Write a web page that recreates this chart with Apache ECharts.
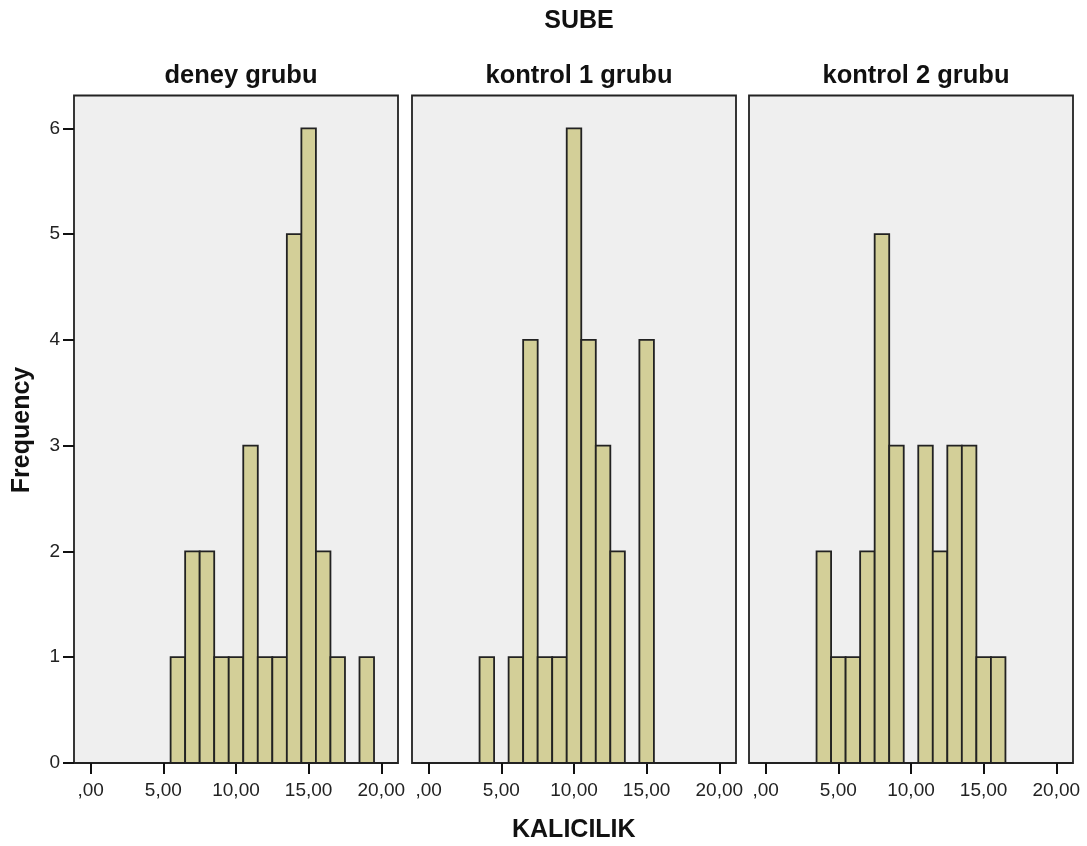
<!DOCTYPE html>
<html>
<head>
<meta charset="utf-8">
<script src="https://cdn.jsdelivr.net/npm/echarts@6/dist/echarts.min.js"></script>
<style>
  html, body { margin: 0; padding: 0; background: #fff; }
  #chart { width: 1087px; height: 846px; }
</style>
</head>
<body>
<div id="chart"></div>
<script>
// Histogram bins of KALICILIK (bin width 1, centred on whole numbers)
const binCenters = [4, 5, 6, 7, 8, 9, 10, 11, 12, 13, 14, 15, 16, 17, 18, 19];
const groups = ['deney grubu', 'kontrol 1 grubu', 'kontrol 2 grubu'];
const deneyCounts    = [0, 0, 1, 2, 2, 1, 1, 3, 1, 1, 5, 6, 2, 1, 0, 1];
const kontrol1Counts = [1, 0, 1, 4, 1, 1, 6, 4, 3, 2, 0, 4, 0, 0, 0, 0];
const kontrol2Counts = [2, 1, 1, 2, 5, 3, 0, 3, 2, 3, 3, 1, 1, 0, 0, 0];
const xTicks = [0, 5, 10, 15, 20];
const yTicks = [0, 1, 2, 3, 4, 5, 6];

const countsByGroup = [deneyCounts, kontrol1Counts, kontrol2Counts];
const FONT = '"Liberation Sans", Arial, sans-serif';
const BAR_FILL = '#D3CF98';
const PANEL_BG = '#EFEFEF';

const panelLefts = [74, 412, 749];
const panelWidth = 324;
const panelTop = 95.5;
const panelHeight = 667.5;

const fmtX = v => v === 0 ? ',00' : v.toFixed(2).replace('.', ',');

const grid = [], xAxis = [], yAxis = [], series = [], title = [];

groups.forEach((name, i) => {
  grid.push({
    left: panelLefts[i], top: panelTop, width: panelWidth, height: panelHeight,
    show: true, backgroundColor: PANEL_BG, borderColor: '#222', borderWidth: 1.8
  });
  xAxis.push({
    type: 'value', gridIndex: i, min: -1.15, max: 21.15, position: 'bottom',
    axisLine: { show: false, onZero: false },
    splitLine: { show: false },
    axisTick: { show: true, customValues: xTicks, length: 11, lineStyle: { color: '#111', width: 2 } },
    axisLabel: {
      show: true, customValues: xTicks, formatter: fmtX, margin: 18,
      color: '#222', fontSize: 19, fontFamily: FONT
    }
  });
  yAxis.push({
    type: 'value', gridIndex: i, min: 0, max: 6.31, position: 'left',
    axisLine: { show: false, onZero: false },
    splitLine: { show: false },
    axisTick: { show: i === 0, customValues: yTicks, length: 11, lineStyle: { color: '#111', width: 2 } },
    axisLabel: {
      show: i === 0, customValues: yTicks, margin: 14,
      color: '#222', fontSize: 19, fontFamily: FONT
    }
  });
  const data = [];
  binCenters.forEach((c, k) => { if (countsByGroup[i][k] > 0) data.push([c, countsByGroup[i][k]]); });
  series.push({
    type: 'custom', xAxisIndex: i, yAxisIndex: i, data,
    renderItem: (params, api) => {
      const x = api.value(0), y = api.value(1);
      const p0 = api.coord([x - 0.5, y]);
      const p1 = api.coord([x + 0.5, 0]);
      return {
        type: 'rect',
        shape: { x: p0[0], y: p0[1], width: p1[0] - p0[0], height: p1[1] - p0[1] },
        style: { fill: BAR_FILL, stroke: '#222', lineWidth: 1.8 }
      };
    }
  });
  title.push({
    text: name, left: panelLefts[i] + panelWidth / 2, top: 58, textAlign: 'center',
    textStyle: { fontSize: 25.5, fontWeight: 'bold', color: '#111', fontFamily: FONT }
  });
});

title.push({
  text: 'SUBE', left: 574, top: 4, textAlign: 'center',
  textStyle: { fontSize: 25, fontWeight: 'bold', color: '#111', fontFamily: FONT }
});

const chart = echarts.init(document.getElementById('chart'), null, { renderer: 'canvas' });
chart.setOption({
  animation: false,
  backgroundColor: '#fff',
  title,
  grid, xAxis, yAxis, series,
  graphic: [
    {
      type: 'text', left: 512, top: 818,
      style: { text: 'KALICILIK', fontSize: 25, fontWeight: 'bold', fill: '#111', fontFamily: FONT }
    },
    {
      type: 'text', x: 22, y: 430, rotation: Math.PI / 2,
      style: { text: 'Frequency', fontSize: 25, fontWeight: 'bold', fill: '#111', fontFamily: FONT,
               align: 'center', verticalAlign: 'middle' }
    }
  ]
});
</script>
</body>
</html>
